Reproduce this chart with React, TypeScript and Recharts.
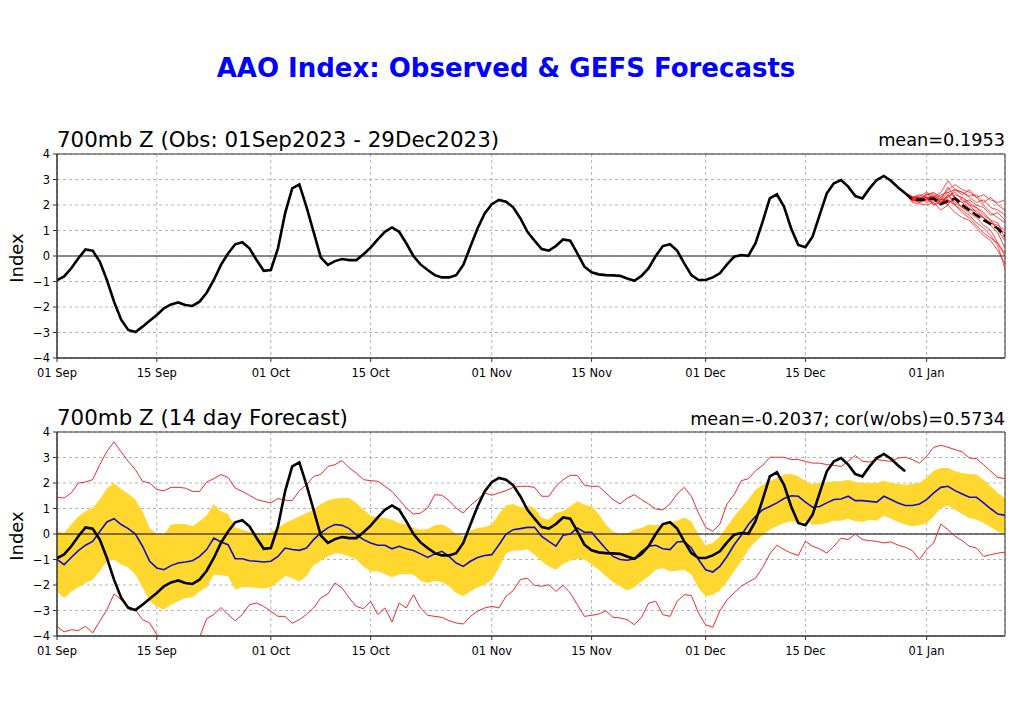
import React from 'react'
import {
  ComposedChart,
  Line,
  Area,
  XAxis,
  YAxis,
  CartesianGrid,
  ReferenceLine,
  ReferenceArea,
} from 'recharts'

/* ── Axis setup (day 0 = 01 Sep 2023) ── */
const tickDays = [0, 14, 30, 44, 61, 75, 91, 105, 122]
const tickLabels = ['01 Sep', '15 Sep', '01 Oct', '15 Oct', '01 Nov', '15 Nov', '01 Dec', '15 Dec', '01 Jan']
const yTicks = [-4, -3, -2, -1, 0, 1, 2, 3, 4]
const lastDay = 133
const obsEnd = 119 // 29 Dec

/* ── Observed AAO index, 01 Sep - 29 Dec ── */
const observed = [
  -0.95, -0.8, -0.48, -0.09, 0.26, 0.21, -0.22, -0.94, -1.79, -2.5,
  -2.9, -2.98, -2.77, -2.54, -2.31, -2.05, -1.9, -1.82, -1.92, -1.96,
  -1.79, -1.44, -0.94, -0.35, 0.1, 0.46, 0.54, 0.3, -0.16, -0.58,
  -0.55, 0.3, 1.67, 2.65, 2.81, 1.93, 0.95, -0.05, -0.35, -0.2,
  -0.12, -0.16, -0.16, 0.07, 0.33, 0.65, 0.95, 1.12, 0.95, 0.5,
  0, -0.33, -0.55, -0.75, -0.84, -0.84, -0.75, -0.35, 0.37, 1.08,
  1.67, 2.03, 2.2, 2.13, 1.91, 1.48, 0.95, 0.6, 0.27, 0.21,
  0.39, 0.65, 0.6, 0.1, -0.42, -0.64, -0.72, -0.75, -0.76, -0.78,
  -0.88, -0.97, -0.78, -0.48, 0, 0.39, 0.46, 0.21, -0.29, -0.75,
  -0.94, -0.94, -0.84, -0.68, -0.33, -0.03, 0.04, 0.01, 0.5, 1.35,
  2.26, 2.42, 1.93, 1.08, 0.43, 0.34, 0.76, 1.61, 2.46, 2.85,
  2.98, 2.72, 2.35, 2.26, 2.65, 2.98, 3.14, 2.95, 2.69, 2.46,
]

/* ── GEFS forecast from 29 Dec: ensemble mean + members ── */
const fcstMean = [2.46, 2.22, 2.2, 2.22, 2.26, 2.04, 2.16, 2.26, 2.0, 1.8, 1.6, 1.41, 1.25, 1.08, 0.78]
const members = [
  [2.46, 2.3, 2.35, 2.5, 2.3, 2.5, 2.95, 2.6, 2.5, 2.35, 2.4, 2.1, 2.3, 2.0, 1.8],
  [2.46, 2.2, 2.2, 2.3, 2.2, 2.0, 2.4, 2.0, 1.8, 1.6, 1.3, 1.1, 0.8, 0.4, -0.5],
  [2.46, 2.25, 2.1, 2.2, 2.4, 2.1, 2.3, 2.5, 2.2, 2.0, 1.7, 1.5, 1.2, 0.9, 0.3],
  [2.46, 2.1, 2.05, 2.0, 2.1, 1.8, 2.0, 1.7, 1.5, 1.4, 1.1, 0.8, 0.6, 0.2, -0.3],
  [2.46, 2.3, 2.25, 2.4, 2.5, 2.3, 2.6, 2.8, 2.6, 2.5, 2.3, 2.4, 2.2, 2.1, 2.2],
  [2.46, 2.2, 2.15, 2.3, 2.0, 2.2, 2.7, 2.3, 2.1, 1.9, 1.6, 1.5, 1.3, 1.1, 0.9],
  [2.46, 2.28, 2.3, 2.2, 2.3, 2.0, 2.1, 2.2, 1.9, 1.8, 1.8, 1.5, 1.3, 1.2, 1.0],
  [2.46, 2.15, 2.2, 2.45, 2.2, 2.2, 2.2, 2.0, 2.3, 2.1, 1.9, 1.7, 1.4, 1.0, 0.6],
  [2.46, 2.25, 2.3, 2.1, 2.2, 2.4, 2.5, 2.6, 2.4, 2.6, 2.3, 2.0, 1.7, 1.5, 1.3],
  [2.46, 2.2, 2.1, 2.25, 2.3, 2.1, 2.2, 2.0, 1.7, 1.5, 1.2, 0.9, 0.7, 0.5, 0.1],
  [2.46, 2.3, 2.4, 2.3, 2.35, 2.2, 2.5, 2.3, 2.1, 2.2, 2.0, 1.9, 1.6, 1.7, 1.4],
  [2.46, 2.2, 2.25, 2.2, 2.1, 2.3, 2.0, 2.4, 2.3, 2.0, 1.9, 1.6, 1.4, 1.3, 0.7],
  [2.46, 2.35, 2.2, 2.4, 2.45, 2.2, 2.3, 2.6, 2.5, 2.3, 2.1, 2.2, 1.9, 1.8, 1.6],
  [2.46, 2.2, 2.3, 2.3, 2.0, 2.1, 2.4, 2.1, 1.9, 1.7, 1.5, 1.2, 1.0, 0.5, 0.0],
]

/* ── 14-day forecast verification: mean, spread band, min / max ── */
const ensMean = [
  -1.0, -1.2, -0.92, -0.65, -0.44, -0.29, 0.1, 0.47, 0.6, 0.37,
  0.21, 0, -0.48, -1.07, -1.33, -1.4, -1.24, -1.14, -1.1, -1.05,
  -0.88, -0.61, -0.16, -0.31, -0.42, -0.97, -0.97, -1.05, -1.07, -1.1,
  -1.07, -0.88, -0.55, -0.61, -0.64, -0.55, -0.22, 0.04, 0.24, 0.37,
  0.34, 0.21, -0.03, -0.22, -0.35, -0.44, -0.44, -0.58, -0.48, -0.58,
  -0.65, -0.78, -0.92, -0.78, -0.68, -0.88, -1.14, -1.27, -1.07, -0.92,
  -0.84, -0.81, -0.42, 0, 0.17, 0.21, 0.26, 0.26, -0.09, -0.29,
  -0.48, -0.05, 0, 0.24, 0.07, 0.07, -0.26, -0.58, -0.88, -1.0,
  -1.03, -0.97, -0.68, -0.48, -0.44, -0.58, -0.61, -0.31, -0.29, -0.55,
  -1.0, -1.4, -1.49, -1.27, -0.88, -0.42, -0.05, 0.37, 0.69, 0.95,
  1.08, 1.22, 1.39, 1.5, 1.48, 1.25, 1.05, 1.08, 1.22, 1.35,
  1.37, 1.48, 1.31, 1.31, 1.28, 1.25, 1.48, 1.35, 1.22, 1.12,
  1.12, 1.18, 1.35, 1.61, 1.83, 1.87, 1.7, 1.57, 1.44, 1.44,
  1.22, 0.99, 0.78, 0.73,
]
const bandHigh = [
  0.1, 0.04, 0.37, 0.69, 0.89, 1.02, 1.35, 1.78, 2.0, 1.76,
  1.57, 1.35, 0.89, 0.24, 0, -0.03, 0.37, 0.39, 0.39, 0.3,
  0.5, 0.73, 1.18, 0.89, 0.78, 0.26, 0.17, 0.08, 0.04, -0.03,
  0.08, 0.24, 0.43, 0.56, 0.69, 0.82, 0.95, 1.18, 1.31, 1.39,
  1.41, 1.41, 1.22, 0.95, 0.73, 0.65, 0.63, 0.56, 0.43, 0.37,
  0.24, 0.17, 0.2, 0.34, 0.37, 0.24, 0, -0.09, 0.13, 0.24,
  0.27, 0.37, 0.78, 1.12, 1.18, 1.05, 1.12, 1.02, 0.63, 0.56,
  0.82, 0.89, 1.08, 1.28, 1.15, 1.08, 0.78, 0.37, 0.1, 0,
  0.04, 0.17, 0.24, 0.37, 0.34, 0.37, 0.43, 0.52, 0.65, 0.5,
  -0.03, -0.44, -0.35, -0.09, 0.3, 0.69, 1.02, 1.35, 1.74, 1.93,
  2.07, 2.2, 2.33, 2.35, 2.26, 2.07, 1.96, 2.0, 2.04, 2.07,
  2.07, 2.13, 2.04, 2.0, 2.0, 2.0, 2.09, 2.0, 1.96, 1.93,
  1.96, 2.0, 2.22, 2.48, 2.59, 2.59, 2.46, 2.39, 2.35, 2.33,
  2.13, 1.87, 1.61, 1.41,
]
const bandLow = [
  -2.25, -2.51, -2.25, -2.09, -1.92, -1.79, -1.46, -1.07, -1.0, -1.2,
  -1.31, -1.59, -2.09, -2.64, -2.84, -2.97, -2.77, -2.64, -2.51, -2.48,
  -2.25, -2.09, -1.59, -1.62, -1.66, -2.18, -2.09, -2.09, -2.12, -2.14,
  -2.09, -1.88, -1.65, -1.73, -1.86, -1.66, -1.23, -1.05, -0.88, -0.75,
  -0.78, -0.88, -1.0, -1.27, -1.46, -1.46, -1.57, -1.7, -1.59, -1.57,
  -1.59, -1.83, -1.92, -1.83, -1.88, -2.05, -2.31, -2.44, -2.25, -2.09,
  -1.99, -1.79, -1.33, -0.75, -0.65, -0.65, -0.6, -0.81, -1.07, -1.27,
  -1.4, -1.18, -1.05, -0.97, -1.0, -1.2, -1.4, -1.66, -1.88, -2.05,
  -2.22, -2.09, -1.86, -1.66, -1.4, -1.33, -1.46, -1.44, -1.4, -1.59,
  -2.12, -2.44, -2.38, -2.22, -1.86, -1.46, -1.07, -0.61, -0.29, -0.05,
  0.17, 0.3, 0.43, 0.5, 0.43, 0.5, 0.37, 0.37, 0.43, 0.52,
  0.52, 0.6, 0.5, 0.47, 0.56, 0.52, 0.73, 0.6, 0.47, 0.37,
  0.3, 0.34, 0.43, 0.69, 1.02, 1.12, 0.95, 0.78, 0.63, 0.56,
  0.43, 0.26, 0.1, 0,
]
const ensMax = [
  1.44, 1.41, 1.61, 2.0, 2.04, 2.13, 2.72, 3.24, 3.61, 3.22,
  2.85, 2.52, 2.07, 2.0, 1.74, 1.7, 1.83, 1.83, 1.8, 1.67,
  1.67, 2.04, 2.17, 2.33, 2.22, 1.8, 1.67, 1.52, 1.35, 1.28,
  1.22, 1.39, 1.33, 1.3, 1.7, 1.93, 2.26, 2.33, 2.65, 2.72,
  2.88, 2.59, 2.39, 2.13, 2.09, 2.07, 1.87, 1.67, 1.35, 1.02,
  0.78, 0.82, 1.02, 1.54, 1.52, 1.31, 1.02, 0.82, 1.12, 1.35,
  1.61, 1.52, 1.61, 1.7, 1.83, 1.87, 1.87, 1.83, 1.48, 1.48,
  1.87, 2.13, 2.3, 2.3, 1.91, 1.87, 1.87, 1.61, 1.35, 1.18,
  1.41, 1.54, 1.35, 1.18, 0.98, 0.95, 1.18, 1.57, 1.83, 1.48,
  0.82, 0.26, 0.1, 0.39, 1.18, 1.54, 2.09, 2.17, 2.48, 2.69,
  3.01, 3.01, 3.01, 2.92, 2.92, 2.85, 2.78, 2.78, 2.72, 2.69,
  2.65, 2.85, 3.08, 2.85, 2.82, 2.92, 2.88, 2.85, 2.98, 3.01,
  2.92, 2.78, 3.05, 3.4, 3.48, 3.4, 3.31, 3.22, 2.98, 2.95,
  2.72, 2.46, 2.22, 2.17,
]
const ensMin = [
  -3.62, -3.84, -3.75, -3.79, -3.62, -3.88, -3.42, -2.97, -2.35, -2.58,
  -2.84, -2.97, -3.36, -3.49, -3.95, -4.1, -4.3, -4.5, -4.4, -4.3,
  -4.05, -3.32, -3.16, -2.88, -3.16, -3.4, -3.16, -2.77, -2.71, -2.84,
  -3.03, -3.23, -3.23, -3.5, -3.36, -3.16, -2.9, -2.51, -2.35, -1.92,
  -2.12, -2.51, -2.84, -2.93, -2.64, -3.16, -2.9, -3.45, -2.71, -2.9,
  -2.38, -2.9, -3.19, -3.23, -3.27, -3.4, -3.49, -3.53, -3.23, -3.03,
  -2.9, -2.84, -2.9, -2.44, -2.22, -1.79, -1.73, -2.01, -2.05, -1.99,
  -2.25, -2.01, -2.31, -2.77, -3.23, -3.19, -3.14, -3.01, -3.27, -3.29,
  -3.36, -3.56, -3.27, -2.71, -2.64, -3.16, -3.23, -2.64, -2.38, -2.41,
  -3.1, -3.56, -3.66, -3.01, -2.58, -2.31, -2.05, -1.88, -1.73, -1.31,
  -0.78, -0.44, -0.61, -0.75, -0.84, -0.29, -0.48, -0.58, -0.75, -0.48,
  -0.16, -0.22, 0, -0.22, -0.26, -0.29, -0.35, -0.31, -0.44, -0.52,
  -0.65, -1.0, -0.61, -0.35, 0.39, 0.17, -0.09, -0.26, -0.48, -0.55,
  -0.88, -0.81, -0.75, -0.71,
]

/* ── Build chart rows ── */
const topData = ensMean.map((_, d) => {
  const row: Record<string, number | null> = { day: d, obs: d <= obsEnd ? observed[d] : null }
  const k = d - obsEnd
  if (k >= 0) {
    row.fmean = fcstMean[k]
    members.forEach((m, j) => { row['m' + j] = m[k] })
  }
  return row
})

const bottomData = ensMean.map((v, d) => ({
  day: d,
  mean: v,
  band: [bandLow[d], bandHigh[d]],
  max: ensMax[d],
  min: ensMin[d],
  obs: d <= obsEnd ? observed[d] : null,
}))

const fmtY = (v: number) => (v < 0 ? '\u2212' + Math.abs(v) : String(v))
const fmtX = (v: number) => tickLabels[tickDays.indexOf(v)] ?? ''

const tickStyle = { fill: '#000', fontSize: 11.5 }
const gridColor = '#b4b4b4'

/* shared grid + axes for both panels */
function axisParts() {
  return [
    <CartesianGrid key="g" stroke={gridColor} strokeDasharray="3 3" />,
    <XAxis
      key="x"
      type="number"
      dataKey="day"
      domain={[0, lastDay]}
      ticks={tickDays}
      tickFormatter={fmtX}
      allowDataOverflow
      height={24}
      tick={tickStyle}
      tickSize={4}
      tickMargin={7}
      stroke="#333"
    />,
    <YAxis
      key="y"
      type="number"
      domain={[-4, 4]}
      ticks={yTicks}
      tickFormatter={fmtY}
      allowDataOverflow
      width={40}
      tick={tickStyle}
      tickSize={4}
      tickMargin={3}
      stroke="#333"
    />,
  ]
}

const textBase: React.CSSProperties = { position: 'absolute', lineHeight: 1, whiteSpace: 'nowrap', color: '#000' }

export default function App() {
  return (
    <div
      style={{
        position: 'absolute',
        left: 0,
        top: 0,
        width: 1024,
        height: 720,
        background: '#fff',
        fontFamily: '"DejaVu Sans", sans-serif',
        overflow: 'hidden',
      }}
    >
      <div style={{ ...textBase, left: 0, width: 1012, top: 55, textAlign: 'center', fontSize: 26, fontWeight: 'bold', color: '#0000ff' }}>
        AAO Index: Observed &amp; GEFS Forecasts
      </div>

      {/* Top panel: observations + GEFS ensemble */}
      <div style={{ ...textBase, left: 57, top: 129, fontSize: 21.4 }}>700mb Z (Obs: 01Sep2023 - 29Dec2023)</div>
      <div style={{ ...textBase, right: 19, top: 132, fontSize: 17.7 }}>mean=0.1953</div>
      <div style={{ ...textBase, left: 17, top: 258, fontSize: 18, transform: 'translate(-50%, -50%) rotate(-90deg)' }}>Index</div>

      <div style={{ position: 'absolute', left: 0, top: 0 }}>
        <ComposedChart width={1024} height={390} data={topData} margin={{ top: 154, right: 19, left: 17, bottom: 8 }}>
          {axisParts()}
          <ReferenceLine y={0} stroke="#666" strokeWidth={1.3} />
          {members.map((_, j) => (
            <Line
              key={j}
              dataKey={'m' + j}
              stroke="#ff1010"
              strokeOpacity={0.85}
              strokeWidth={0.9}
              dot={false}
              isAnimationActive={false}
            />
          ))}
          <Line dataKey="obs" stroke="#000" strokeWidth={2.6} dot={false} isAnimationActive={false} />
          <Line dataKey="fmean" stroke="#000" strokeWidth={2.6} strokeDasharray="9 4" dot={false} isAnimationActive={false} />
          <ReferenceArea x1={0} x2={lastDay} y1={-4} y2={4} fill="none" stroke="#333" strokeWidth={1} />
        </ComposedChart>
      </div>

      {/* Bottom panel: 14-day forecast verification */}
      <div style={{ ...textBase, left: 57, top: 407, fontSize: 21.4 }}>700mb Z (14 day Forecast)</div>
      <div style={{ ...textBase, right: 19, top: 411, fontSize: 17.7 }}>mean=-0.2037; cor(w/obs)=0.5734</div>
      <div style={{ ...textBase, left: 17, top: 536, fontSize: 18, transform: 'translate(-50%, -50%) rotate(-90deg)' }}>Index</div>

      <div style={{ position: 'absolute', left: 0, top: 390 }}>
        <ComposedChart width={1024} height={330} data={bottomData} margin={{ top: 42, right: 19, left: 17, bottom: 60 }}>
          {axisParts()}
          <Area dataKey="band" stroke="none" fill="#ffd72e" fillOpacity={1} isAnimationActive={false} />
          <ReferenceLine y={0} stroke="#000" strokeWidth={1} />
          <Line dataKey="max" stroke="#ee2a2a" strokeWidth={1} dot={false} isAnimationActive={false} />
          <Line dataKey="min" stroke="#ee2a2a" strokeWidth={1} dot={false} isAnimationActive={false} />
          <Line dataKey="mean" stroke="#1010c8" strokeWidth={1.6} dot={false} isAnimationActive={false} />
          <Line dataKey="obs" stroke="#000" strokeWidth={2.6} dot={false} isAnimationActive={false} />
          <ReferenceArea x1={0} x2={lastDay} y1={-4} y2={4} fill="none" stroke="#333" strokeWidth={1} />
        </ComposedChart>
      </div>
    </div>
  )
}
